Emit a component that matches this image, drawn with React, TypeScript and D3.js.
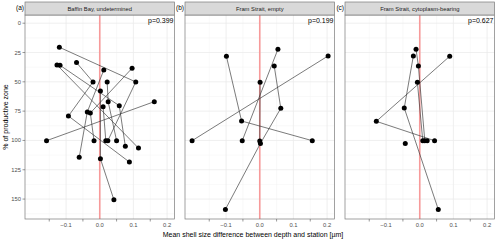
import * as d3 from 'd3';
import React from 'react';

// points per panel: x = size difference (µm), y = % of productive zone, g = line group
const baffinPts = [
  { x: -0.12, y: 20.5, g: 1 }, { x: 0.107, y: 50.1, g: 1 }, { x: 0.024, y: 100.2, g: 1 },
  { x: -0.127, y: 35.6, g: 2 }, { x: 0.115, y: 106.5, g: 2 },
  { x: -0.118, y: 35.9, g: 3 }, { x: 0.058, y: 70.4, g: 3 }, { x: 0.076, y: 105, g: 3 },
  { x: -0.069, y: 33.6, g: 4 }, { x: -0.02, y: 50.1, g: 4 }, { x: -0.093, y: 79.2, g: 4 }, { x: 0.088, y: 118.4, g: 4 },
  { x: 0.096, y: 38.4, g: 5 }, { x: -0.028, y: 76.6, g: 5 }, { x: -0.017, y: 100.2, g: 5 },
  { x: 0.012, y: 39.9, g: 6 }, { x: -0.037, y: 75.7, g: 6 }, { x: -0.061, y: 114.4, g: 6 },
  { x: -0.158, y: 100.2, g: 7 }, { x: 0.162, y: 66.9, g: 7 },
  { x: 0.022, y: 50.1, g: 8 }, { x: 0.025, y: 66.9, g: 8 }, { x: 0.05, y: 100.2, g: 8 },
  { x: 0.002, y: 57.8, g: 9 }, { x: 0.002, y: 115.6, g: 9 }, { x: 0.042, y: 150.6, g: 9 },
  { x: 0.01, y: 71.2, g: 10 }, { x: 0.018, y: 100.2, g: 10 },
];

const framEmptyPts = [
  { x: -0.099, y: 28.2, g: 1 }, { x: -0.054, y: 83.4, g: 1 }, { x: 0.156, y: 100.2, g: 1 },
  { x: 0.054, y: 22.2, g: 2 }, { x: -0.052, y: 100.2, g: 2 },
  { x: 0.203, y: 27.9, g: 3 }, { x: -0.201, y: 100.2, g: 3 },
  { x: 0.043, y: 36.5, g: 4 }, { x: 0.0625, y: 72.6, g: 4 }, { x: 0.002, y: 102.5, g: 4 }, { x: -0.102, y: 158.8, g: 4 },
  { x: 0.001, y: 50.4, g: 5 }, { x: 0.0, y: 100.5, g: 5 },
];

const framCytoPts = [
  { x: -0.011, y: 22.2, g: 1 }, { x: -0.004, y: 36.5, g: 1 }, { x: 0.015, y: 100.2, g: 1 },
  { x: -0.019, y: 27.9, g: 2 }, { x: -0.046, y: 72.3, g: 2 }, { x: 0.055, y: 158.8, g: 2 },
  { x: 0.089, y: 28.2, g: 3 }, { x: -0.129, y: 83.7, g: 3 }, { x: 0.044, y: 100.2, g: 3 },
  { x: -0.007, y: 50.4, g: 4 }, { x: 0.009, y: 100.2, g: 4 },
  { x: 0.022, y: 100.2, g: 5 },
  { x: -0.043, y: 102.5, g: 6 },
];

const panelTitles = ['Baffin Bay, undetermined', 'Fram Strait, empty', 'Fram Strait, cytoplasm-bearing'];
const panelTags = ['(a)', '(b)', '(c)'];
const pValues = ['p=0.399', 'p=0.199', 'p=0.627'];
const xLabelTicks = [-0.1, 0, 0.1, 0.2];
const xMarkTicks = [-0.15, -0.05, 0.05, 0.15];
const yTicks = [0, 25, 50, 75, 100, 125, 150];
const yMinor = [12.5, 37.5, 62.5, 87.5, 112.5, 137.5, 162.5];

const W = 500, H = 240;
const panelLeft = [25, 185, 345];
const panelW = 149.5;
const top = 15, bottom = 219;
const font = 'Liberation Sans, Arial, sans-serif';

function Panel({ i, pts }: { i: number; pts: { x: number; y: number; g: number }[] }) {
  const x0 = panelLeft[i];
  const x = d3.scaleLinear().domain([-0.222, 0.222]).range([x0, x0 + panelW]);
  const y = d3.scaleLinear().domain([-7, 167]).range([top, bottom]);
  const groups = d3.groups(pts, d => d.g).map(([, v]) => v.slice().sort((a, b) => a.y - b.y));
  const line = d3.line<{ x: number; y: number }>().x(d => x(d.x)).y(d => y(d.y));

  return (
    <g>
      <rect x={x0} y={top} width={panelW} height={bottom - top} fill="#fff" />
      {yMinor.map(t => <line key={'ym' + t} x1={x0} x2={x0 + panelW} y1={y(t)} y2={y(t)} stroke="#f2f2f2" strokeWidth={0.5} />)}
      {xMarkTicks.map(t => <line key={'xm' + t} x1={x(t)} x2={x(t)} y1={top} y2={bottom} stroke="#f2f2f2" strokeWidth={0.5} />)}
      {yTicks.map(t => <line key={'yg' + t} x1={x0} x2={x0 + panelW} y1={y(t)} y2={y(t)} stroke="#ebebeb" strokeWidth={0.8} />)}
      {xLabelTicks.map(t => <line key={'xg' + t} x1={x(t)} x2={x(t)} y1={top} y2={bottom} stroke="#ebebeb" strokeWidth={0.8} />)}
      <line x1={x(0)} x2={x(0)} y1={top} y2={bottom} stroke="#f79a9a" strokeWidth={1.6} />
      {groups.map((g, k) => <path key={k} d={line(g) || ''} fill="none" stroke="#333" strokeWidth={0.65} />)}
      {pts.map((p, k) => <circle key={k} cx={x(p.x)} cy={y(p.y)} r={2.5} fill="#000" />)}
      <rect x={x0} y={top} width={panelW} height={bottom - top} fill="none" stroke="#7a7a7a" strokeWidth={0.7} />
      <rect x={x0} y={2} width={panelW} height={top - 2} fill="#d9d9d9" stroke="#7a7a7a" strokeWidth={0.7} />
      <text x={x0 + panelW / 2} y={11} fontSize={5.8} textAnchor="middle" fill="#1a1a1a" fontFamily={font}>{panelTitles[i]}</text>
      <text x={x0 - 1} y={9.5} fontSize={6.5} textAnchor="end" fill="#000" fontFamily={font}>{panelTags[i]}</text>
      <text x={x0 + panelW - 1} y={23} fontSize={7} textAnchor="end" fill="#000" fontFamily={font}>{pValues[i]}</text>
      {xMarkTicks.map(t => <line key={'xt' + t} x1={x(t)} x2={x(t)} y1={bottom} y2={bottom + 2.5} stroke="#555" strokeWidth={0.6} />)}
      {xLabelTicks.map(t => (
        <text key={'xl' + t} x={x(t)} y={227} fontSize={5.8} textAnchor="middle" fill="#4d4d4d" fontFamily={font}>{d3.format('.1f')(t)}</text>
      ))}
      {i === 0 && yTicks.map(t => (
        <g key={'yt' + t}>
          <line x1={x0 - 2.5} x2={x0} y1={y(t)} y2={y(t)} stroke="#555" strokeWidth={0.6} />
          <text x={x0 - 4} y={y(t) + 2} fontSize={5.8} textAnchor="end" fill="#4d4d4d" fontFamily={font}>{t}</text>
        </g>
      ))}
    </g>
  );
}

export default function App() {
  const data = [baffinPts, framEmptyPts, framCytoPts];
  return (
    <svg width={W} height={H} style={{ position: 'absolute', left: 0, top: 0, background: '#fff' }}>
      <rect width={W} height={H} fill="#fff" />
      {data.map((pts, i) => <Panel key={i} i={i} pts={pts} />)}
      <text x={253} y={237} fontSize={7} textAnchor="middle" fill="#000" fontFamily={font}>
        Mean shell size difference between depth and station [µm]
      </text>
      <text transform="translate(8,117) rotate(-90)" fontSize={7} textAnchor="middle" fill="#000" fontFamily={font}>
        % of productive zone
      </text>
    </svg>
  );
}
